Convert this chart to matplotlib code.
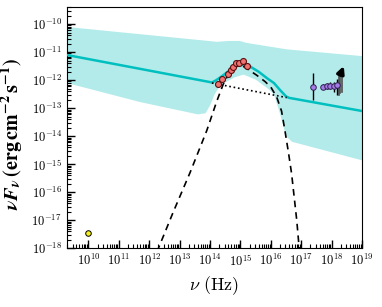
import numpy as np
import matplotlib
matplotlib.use('Agg')
import matplotlib.pyplot as plt
from matplotlib.ticker import FixedLocator, LogLocator, NullFormatter

plt.rcParams['mathtext.fontset'] = 'cm'
plt.rcParams['font.family'] = 'serif'
plt.rcParams['font.serif'] = ['cmr10', 'DejaVu Serif']
plt.rcParams['axes.formatter.use_mathtext'] = True

# all values as log10(nu / Hz), log10(nuFnu / erg cm^-2 s^-1)
band_top_x = [9.29, 14.23, 14.6, 14.98, 15.2, 16.53, 19.0]
band_top_y = [-10.1, -10.63, -10.6, -10.6, -10.67, -10.9, -11.14]
band_bot_x = [9.29, 11.7, 13.6, 13.85, 14.0, 14.15, 14.3, 14.5, 14.8, 15.1, 15.5, 15.9, 16.1, 16.3, 16.5, 16.7, 19.0]
band_bot_y = [-12.1, -12.78, -13.22, -13.18, -12.9, -12.5, -12.25, -12.08, -11.9, -11.8, -11.98, -12.3, -12.5, -13.2, -14.0, -14.2, -14.86]

total_x = [9.29, 14.06, 14.2, 14.4, 14.6, 14.8, 14.95, 15.1, 15.3, 15.6, 15.9, 16.1, 16.3, 16.5, 16.6, 19.0]
total_y = [-11.1, -12.08, -12.0, -11.85, -11.68, -11.52, -11.46, -11.45, -11.5, -11.7, -11.95, -12.1, -12.35, -12.58, -12.63, -13.1]

plaw_x = [14.06, 16.52]
plaw_y = [-12.10, -12.62]

disk_x = [12.1, 12.3, 12.79, 13.34, 13.89, 14.22, 14.43, 14.6, 14.8, 15.0, 15.16, 15.53, 15.81, 16.0, 16.19, 16.35, 16.46, 16.58, 16.68, 16.85, 16.93, 16.96]
disk_y = [-18.5, -18.0, -16.7, -15.3, -13.8, -12.75, -12.15, -11.8, -11.55, -11.45, -11.55, -11.82, -12.05, -12.25, -12.6, -13.1, -13.79, -14.6, -15.33, -17.0, -18.0, -18.5]

opt_x = [14.27, 14.40, 14.58, 14.68, 14.76, 14.85, 14.96, 15.07, 15.20]
opt_y = [-12.12, -11.94, -11.79, -11.65, -11.52, -11.40, -11.40, -11.32, -11.48]

xray_x = [17.39, 17.71, 17.85, 17.95, 18.07, 18.18]
xray_y = [-12.26, -12.24, -12.22, -12.21, -12.19, -12.17]
xray_lo = [-12.71, -12.33, -12.33, -12.33, -12.42, -12.51]
xray_hi = [-11.76, -12.12, -12.10, -12.08, -12.06, -11.94]

hard_x = [18.23, 18.28, 18.34]
hard_lo = [-12.54, -12.47, -12.42]
hard_hi = [-11.82, -11.70, -11.64]

radio_x = [10.0]
radio_y = [-17.44]

arrow_from = (18.25, -11.9)
arrow_to = (18.43, -11.4)

xticks = [10, 11, 12, 13, 14, 15, 16, 17, 18, 19]
yticks = [-18, -17, -16, -15, -14, -13, -12, -11, -10]

p = lambda v: 10.0 ** np.asarray(v)

fig = plt.figure(figsize=(3.82, 3.07), dpi=100)
ax = fig.add_axes([0.175, 0.191, 0.773, 0.786])

# upper/lower envelope of the model
ax.fill_between(p(band_top_x), p(band_top_y), 1e-30, color='#b3ebeb', lw=0, zorder=1)
ax.fill_between(p(band_bot_x), p(band_bot_y), 1e-30, color='white', lw=0, zorder=1.1)

ax.plot(p(total_x), p(total_y), color='#00bfbf', lw=1.8, zorder=3)
ax.plot(p(plaw_x), p(plaw_y), color='k', ls=':', lw=1.2, zorder=3)
ax.plot(p(disk_x), p(disk_y), color='k', ls=(0, (4, 3)), lw=1.2, zorder=3)

ax.plot(p(opt_x), p(opt_y), 'o', color='#f27171', mec='#5a1010', mew=0.8, ms=4.3, zorder=5)

ylo = p(xray_y) - p(xray_lo)
yhi = p(xray_hi) - p(xray_y)
ax.errorbar(p(xray_x), p(xray_y), yerr=[ylo, yhi], fmt='o', color='#a57be6',
            mec='#302050', mew=0.7, ms=4, ecolor='k', elinewidth=1.0, capsize=0, zorder=5)
for hx, lo, hi in zip(hard_x, hard_lo, hard_hi):
    ax.plot([p(hx), p(hx)], [p(lo), p(hi)], color='#505050', lw=1.2, zorder=4)
ax.annotate('', xy=(p(arrow_to[0]), p(arrow_to[1])), xytext=(p(arrow_from[0]), p(arrow_from[1])),
            arrowprops=dict(arrowstyle='-|>', color='k', lw=2.5, mutation_scale=10), zorder=6)

ax.plot(p(radio_x), p(radio_y), 'o', color='#f5f020', mec='k', mew=0.7, ms=4, zorder=5)

ax.set_xscale('log')
ax.set_yscale('log')
ax.set_xlim(p(9.29), 1e19)
ax.set_ylim(1e-18, p(-9.39))

ax.xaxis.set_major_locator(FixedLocator(p(xticks)))
ax.xaxis.set_minor_locator(LogLocator(base=10, subs=np.arange(2, 10), numticks=200))
ax.xaxis.set_minor_formatter(NullFormatter())
ax.yaxis.set_major_locator(FixedLocator(p(yticks)))
ax.yaxis.set_minor_locator(LogLocator(base=10, subs=np.arange(2, 10), numticks=200))
ax.yaxis.set_minor_formatter(NullFormatter())
ax.tick_params(which='major', direction='in', length=5.5, width=1.0, labelsize=9)
ax.tick_params(which='minor', direction='in', length=3, width=0.8)

ax.set_xlabel(r'$\nu\ (\mathrm{Hz})$', fontsize=13, labelpad=4)
ax.set_ylabel(r'$\mathbfit{\nu F_\nu}\,\mathbf{(erg\,cm^{-2}\,s^{-1})}$', fontsize=14.5,
              math_fontfamily='stix')
ax.yaxis.set_label_coords(-0.142, 0.474)

plt.savefig('out.png', dpi=100)
